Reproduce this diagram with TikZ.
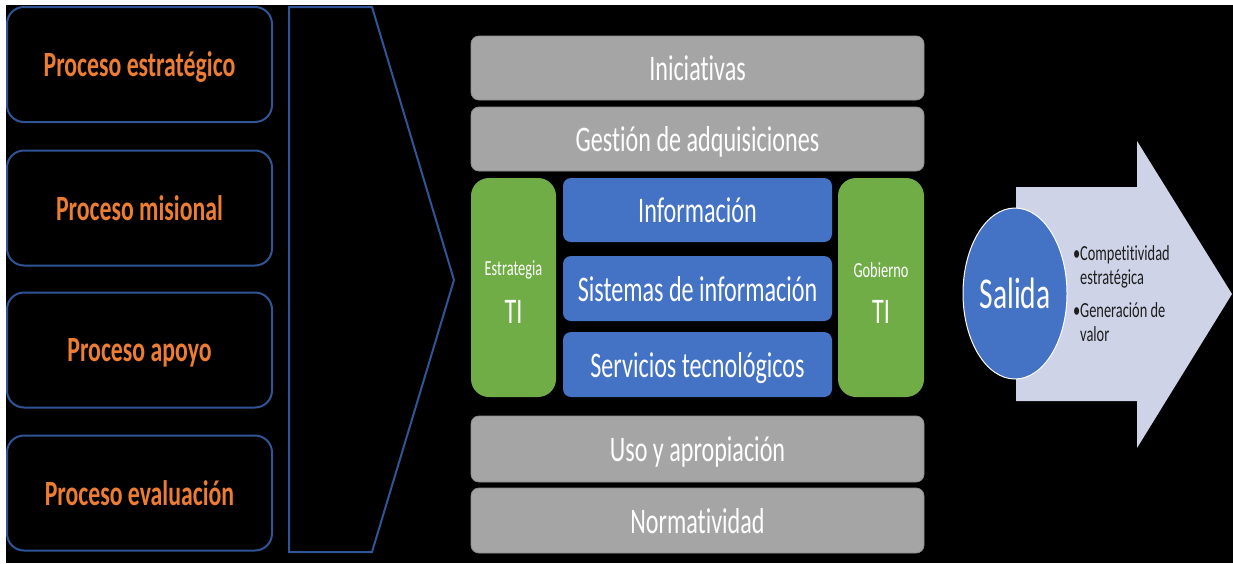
\documentclass[tikz,border=0pt]{standalone}
\usepackage{fontspec}
\setmainfont{Carlito}[FakeStretch=0.67, Ligatures=NoCommon, RawFeature={-dlig}]
\usetikzlibrary{shapes.geometric}
\definecolor{lineblue}{HTML}{2F5597}
\definecolor{procorange}{HTML}{ED7D31}
\definecolor{bargrey}{HTML}{A5A5A5}
\definecolor{bargreyline}{HTML}{8E8E8E}
\definecolor{tigreen}{HTML}{70AD47}
\definecolor{tiblue}{HTML}{4472C4}
\definecolor{lavender}{HTML}{CFD3E8}
\definecolor{darktext}{HTML}{1E1E1E}
\tikzset{
  procbox/.style={draw=lineblue, line width=2pt, rounded corners=17pt, minimum width=265pt, minimum height=115pt, text=procorange, text depth=0pt, font=\fontsize{35.5}{40}\selectfont\bfseries},
  greybar/.style={fill=bargrey, draw=bargreyline, line width=0.8pt, rounded corners=8pt, minimum width=453pt, text=white, text depth=0pt, font=\fontsize{36}{40}\selectfont},
  bluebar/.style={fill=tiblue, rounded corners=8pt, minimum width=269pt, minimum height=64pt, text=white, text depth=0pt, font=\fontsize{36}{40}\selectfont},
  greenbar/.style={fill=tigreen, rounded corners=18pt, minimum width=85pt, minimum height=219pt},
  smalllabel/.style={text=white, font=\fontsize{21.5}{24}\selectfont},
  biglabel/.style={text=white, font=\fontsize{36}{40}\selectfont},
}
\begin{document}
\begin{tikzpicture}[x=1pt, y=-1pt, inner sep=0pt, outer sep=0pt]
\fill[white] (0,0) rectangle (1233,563);
\useasboundingbox (0,0) rectangle (1233,563);
\fill[black] (6,5) rectangle (1233,563);
% left process boxes
\node[procbox] (p1) at (139.5,64.5) {Proceso estratégico};
\node[procbox] (p2) at (139.5,208) {Proceso misional};
\node[procbox] (p3) at (139.5,350) {Proceso apoyo};
\node[procbox] (p4) at (139.5,493) {Proceso evaluación};
% chevron
\draw[lineblue, line width=2pt, line join=miter] (289,7) -- (372,7) -- (454,280) -- (372,552) -- (289,552) -- cycle;
% grey bars
\node[greybar, minimum height=64pt] (ini) at (697.5,68) {Iniciativas};
\node[greybar, minimum height=64pt] (ges) at (697.5,139) {Gestión de adquisiciones};
\node[greybar, minimum height=66pt] (uso) at (697.5,449) {Uso y apropiación};
\node[greybar, minimum height=65pt] (nor) at (697.5,520.5) {Normatividad};
% green columns
\node[greenbar] (est) at (513.5,287.5) {};
\node[greenbar, minimum width=86pt] (gob) at (881,287.5) {};
\node[smalllabel] (estl) at (513.5,270) {Estrategia};
\node[biglabel] (estti) at (513.5,312) {TI};
\node[smalllabel] (gobl) at (881,270) {Gobierno};
\node[biglabel] (gobti) at (881,312) {TI};
% blue bars
\node[bluebar] (inf) at (697.5,210) {Información};
\node[bluebar, minimum height=65pt] (sis) at (697.5,288.5) {Sistemas de información};
\node[bluebar, minimum height=65pt] (ser) at (697.5,364.5) {Servicios tecnológicos};
% output arrow
\fill[lavender] (1016,187) -- (1137,187) -- (1137,141) -- (1232,294) -- (1137,448) -- (1137,401) -- (1016,401) -- cycle;
\node[ellipse, fill=tiblue, draw=white, line width=1pt, minimum width=104pt, minimum height=171pt, text=white, font=\fontsize{44}{48}\selectfont] (sal) at (1015,293.5) {Salida};
\node[anchor=north west, align=left, text=darktext, font=\fontsize{21.5}{24}\selectfont] (out) at (1073,246) {•Competitividad\\\phantom{•}estratégica\\[9pt]•Generación de\\\phantom{•}valor};
\end{tikzpicture}
\end{document}
